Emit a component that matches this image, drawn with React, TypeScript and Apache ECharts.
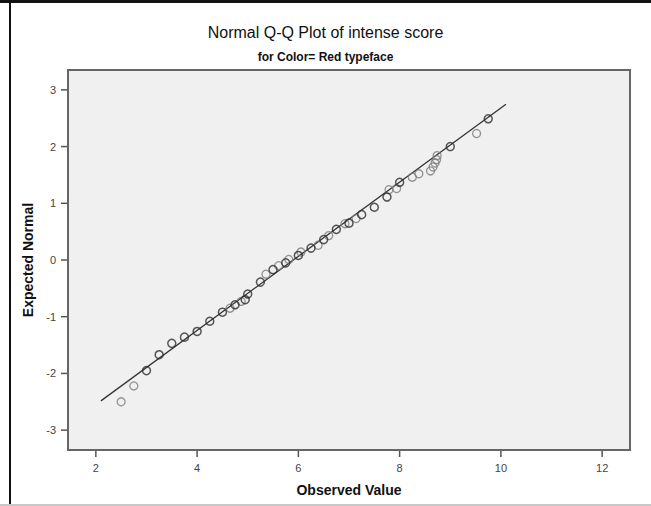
import React, { useEffect, useRef } from "react";
import * as echarts from "echarts";

// Tied observed values (several cases, drawn darker)
const tiedObserved = [3.0, 3.25, 3.5, 3.75, 4.0, 4.25, 4.5, 4.75, 4.95, 5.0, 5.25, 5.5, 5.75, 6.0, 6.25, 6.5, 6.75, 7.0, 7.25, 7.5, 7.75, 8.0, 9.0, 9.75];
const tiedExpected = [-1.95, -1.67, -1.47, -1.36, -1.26, -1.08, -0.92, -0.79, -0.70, -0.60, -0.39, -0.17, -0.05, 0.08, 0.21, 0.36, 0.54, 0.65, 0.80, 0.93, 1.11, 1.37, 2.00, 2.49];

// Single observed values (drawn lighter)
const singleObserved = [2.5, 2.75, 4.65, 4.87, 5.36, 5.61, 5.81, 6.05, 6.39, 6.6, 6.92, 7.14, 7.79, 7.94, 8.25, 8.38, 8.61, 8.66, 8.7, 8.73, 8.74, 9.52];
const singleExpected = [-2.50, -2.22, -0.85, -0.73, -0.25, -0.10, 0.01, 0.14, 0.26, 0.43, 0.64, 0.73, 1.24, 1.26, 1.46, 1.52, 1.57, 1.64, 1.71, 1.77, 1.84, 2.23];

// Reference line: expected = (observed - mean) / sd
const lineMean = 5.9;
const lineSd = 1.53;
const lineX = [2.1, 10.1];

const xTicks = [2, 4, 6, 8, 10, 12];
const yTicks = [-3, -2, -1, 0, 1, 2, 3];
const xMin = 1.45;
const xMax = 12.55;
const yMin = -3.35;
const yMax = 3.35;

const FONT = "'Liberation Sans', Arial, sans-serif";
const TICK_LEN = 6;

export default function App() {
  const ref = useRef<HTMLDivElement>(null);
  useEffect(() => {
    if (!ref.current) return;
    const chart = echarts.init(ref.current, undefined, { renderer: "svg" });
    const tied = tiedObserved.map((x, i) => [x, tiedExpected[i]]);
    const single = singleObserved.map((x, i) => [x, singleExpected[i]]);
    const line = lineX.map((x) => [x, (x - lineMean) / lineSd]);
    const frame = [
      { type: "rect", shape: { x: 0, y: 0, width: 651, height: 3 }, style: { fill: "#111" }, silent: true },
      { type: "rect", shape: { x: 9, y: 0, width: 2, height: 506 }, style: { fill: "#111" }, silent: true },
      { type: "rect", shape: { x: 0, y: 504, width: 651, height: 2 }, style: { fill: "#c8c8c8" }, silent: true },
    ];
    chart.setOption({
      animation: false,
      backgroundColor: "#ffffff",
      textStyle: { fontFamily: FONT },
      title: [
        {
          text: "Normal Q-Q Plot of intense score",
          left: "center",
          top: 19,
          textStyle: { fontSize: 16, fontWeight: "normal", color: "#111", fontFamily: FONT },
        },
        {
          text: "for Color= Red typeface",
          left: "center",
          top: 46,
          textStyle: { fontSize: 12, fontWeight: "bold", color: "#111", fontFamily: FONT },
        },
      ],
      grid: {
        left: 68,
        top: 70,
        width: 562,
        height: 380,
        show: true,
        backgroundColor: "#f0f0f0",
        borderColor: "#666",
        borderWidth: 2,
      },
      xAxis: {
        type: "value",
        min: xMin,
        max: xMax,
        name: "Observed Value",
        nameLocation: "middle",
        nameGap: 33,
        nameTextStyle: { fontSize: 14, fontWeight: "bold", color: "#111", fontFamily: FONT },
        axisLine: { show: true, onZero: false, lineStyle: { color: "#666", width: 2 } },
        splitLine: { show: false },
        axisTick: { show: false },
        axisLabel: { customValues: xTicks, fontSize: 11, color: "#444", margin: 12, fontFamily: FONT },
      },
      yAxis: {
        type: "value",
        min: yMin,
        max: yMax,
        name: "Expected Normal",
        nameLocation: "middle",
        nameGap: 22,
        nameTextStyle: { fontSize: 14, fontWeight: "bold", color: "#111", fontFamily: FONT },
        axisLine: { show: true, onZero: false, lineStyle: { color: "#666", width: 2 } },
        splitLine: { show: false },
        axisTick: { show: false },
        axisLabel: { customValues: yTicks, fontSize: 11, color: "#444", margin: 12, fontFamily: FONT },
      },
      series: [
        {
          type: "line",
          data: line,
          symbol: "none",
          lineStyle: { color: "#333", width: 1.3 },
          z: 2,
        },
        {
          type: "scatter",
          data: single,
          symbol: "circle",
          symbolSize: 8,
          itemStyle: { color: "transparent", borderColor: "#7a7a7a", borderWidth: 1.3 },
          z: 3,
        },
        {
          type: "scatter",
          data: tied,
          symbol: "circle",
          symbolSize: 8,
          itemStyle: { color: "transparent", borderColor: "#2e2e2e", borderWidth: 1.5 },
          z: 4,
        },
      ],
      graphic: frame,
    });
    // Axis tick marks, placed through the chart's own scales
    const tickStyle = { stroke: "#555", lineWidth: 1.5 };
    const ticks: any[] = [];
    xTicks.forEach((v) => {
      const p = chart.convertToPixel({ gridIndex: 0 }, [v, yMin]) as number[];
      ticks.push({
        type: "line",
        silent: true,
        z: 10,
        shape: { x1: p[0], y1: p[1] + 1, x2: p[0], y2: p[1] + 1 + TICK_LEN },
        style: tickStyle,
      });
    });
    yTicks.forEach((v) => {
      const p = chart.convertToPixel({ gridIndex: 0 }, [xMin, v]) as number[];
      ticks.push({
        type: "line",
        silent: true,
        z: 10,
        shape: { x1: p[0] - 1 - TICK_LEN, y1: p[1], x2: p[0] - 1, y2: p[1] },
        style: tickStyle,
      });
    });
    chart.setOption({ graphic: [...frame, ...ticks] });
    return () => chart.dispose();
  }, []);
  return (
    <div
      ref={ref}
      style={{ position: "fixed", left: 0, top: 0, width: 651, height: 506 }}
    />
  );
}
